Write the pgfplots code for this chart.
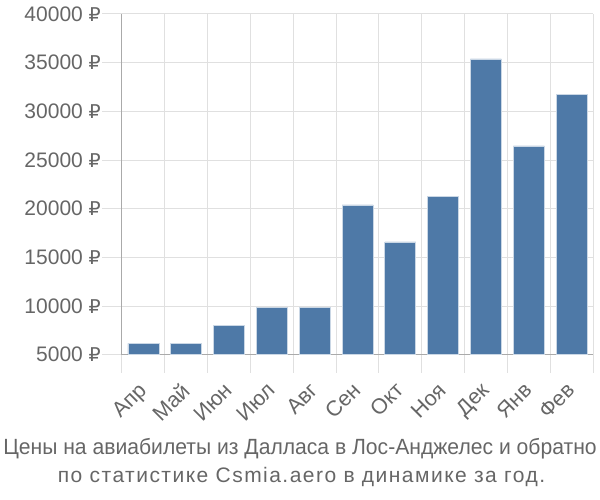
\documentclass[border=0pt]{standalone}
\usepackage{fontspec}
\setmainfont{Liberation Sans}
\newfontfamily\capfont[FakeStretch=0.96]{Liberation Sans}
\newfontfamily\capfontb[LetterSpace=7]{Liberation Sans}
\newfontfamily\dejavu{DejaVu Sans}
\usepackage{pgfplots}
\pgfplotsset{compat=1.18}
\definecolor{barc}{RGB}{78,121,167}
\definecolor{txt}{RGB}{102,102,102}
\definecolor{gridc}{RGB}{224,224,224}
\definecolor{axc}{RGB}{170,170,170}
\begin{document}
\begin{tikzpicture}[x=1pt,y=1pt]
\useasboundingbox (0,0) rectangle (600,500);
\begin{axis}[at={(122pt,145.3pt)}, anchor=south west, scale only axis,
  width=471pt, height=340.7pt,
  xmin=-0.5, xmax=10.5, ymin=5000, ymax=40000,
  ytick={5000,10000,...,40000},
  scaled y ticks=false,
  /pgf/number format/.cd, 1000 sep={}, assume math mode=true, /pgfplots/.cd,
  yticklabel={\pgfmathprintnumber{\tick}\ {\dejavu\fontsize{19}{22}\selectfont ₽}},
  xtick={0,...,10},
  xticklabels={Апр,Май,Июн,Июл,Авг,Сен,Окт,Ноя,Дек,Янв,Фев},
  minor xtick={-0.5,0.5,...,10.5},
  xminorgrids, ymajorgrids,
  grid style={gridc, line width=1pt},
  tick align=outside,
  major tick length=20pt, minor tick length=18pt,
  tick style={gridc, line width=1pt},
  major x tick style={draw=none},
  axis x line*=bottom, axis y line*=left,
  axis line style={axc, line width=1pt, -},
  ticklabel style={text=txt},
  yticklabel style={inner sep=1pt, font=\fontsize{21}{24}\selectfont},
  xticklabel style={rotate=45, anchor=north east, inner sep=1pt, xshift=-8pt, yshift=1pt, font=\fontsize{21.5}{24}\selectfont},
]
\addplot[ybar, bar width=31pt, fill=barc, draw=white!70!barc, line width=0.8pt]
  coordinates {(0,6170) (1,6170) (2,8020) (3,9870) (4,9870) (5,20380) (6,16580) (7,21270) (8,35380) (9,26440) (10,31780)};
\end{axis}
\node[text=txt, anchor=base, font=\capfont\fontsize{22}{24}\selectfont] at (300,45) {Цены на авиабилеты из Далласа в Лос-Анджелес и обратно};
\node[text=txt, anchor=base, font=\capfontb\fontsize{21}{24}\selectfont] at (301.5,17) {по статистике Csmia.aero в динамике за год.};
\end{tikzpicture}
\end{document}
